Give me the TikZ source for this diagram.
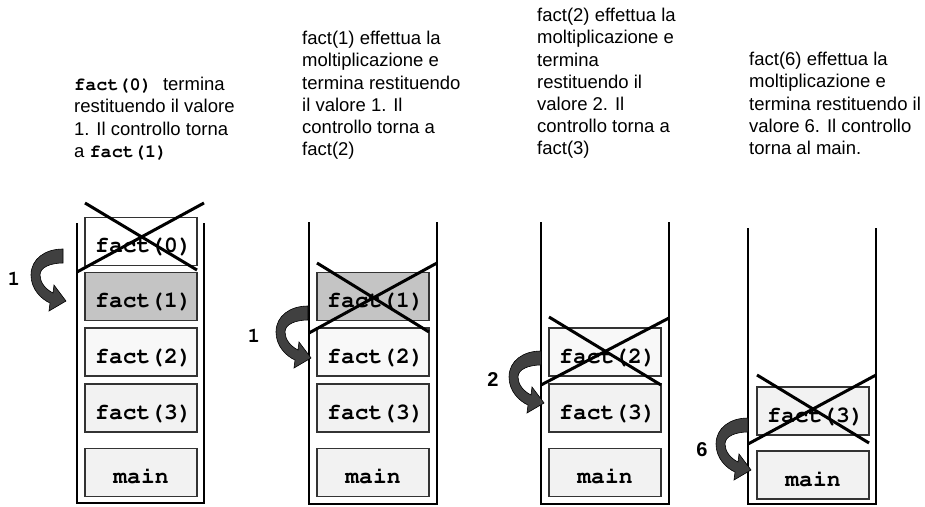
\documentclass[tikz,border=0pt]{standalone}
\usepackage[T1]{fontenc}
\usepackage{fontspec}
\setmainfont{Liberation Sans}
\newcommand{\courb}{\fontencoding{T1}\fontfamily{pcr}\fontseries{b}\fontshape{n}\selectfont}
\definecolor{arrowgray}{HTML}{404040}
\definecolor{boxgray}{HTML}{C4C4C4}
\definecolor{boxlight}{HTML}{F8F8F8}
\definecolor{boxpale}{HTML}{F2F2F2}
\tikzset{
  frame/.style={draw=black!80, line width=1.3pt, minimum width=112pt, minimum height=48pt,
    inner sep=0pt, text height=22pt, text depth=0pt,
    font=\fontsize{23}{23}\courb},
  wall/.style={line width=2.6pt},
  crossline/.style={line width=3pt},
  caption/.style={anchor=north west, inner sep=0pt, align=left,
    font=\fontsize{18.5}{22.2}\selectfont},
  numlabel/.style={inner sep=0pt, font=\fontsize{20}{20}\selectfont\bfseries},
  retarrow/.pic={
    \filldraw[fill=arrowgray, draw=black, line width=0.6pt]
      (0,0) .. controls (-18,0) and (-32,10) .. (-32,26)
      .. controls (-32,40) and (-22,50) .. (-13,54)
      -- (-14,62) -- (3,52) -- (-9,36) -- (-10,44)
      .. controls (-18,40) and (-23,33) .. (-23,26)
      .. controls (-23,18) and (-12,14) .. (0,14) -- cycle;
  }
}
\begin{document}
\begin{tikzpicture}[x=1pt,y=-1pt]
\useasboundingbox (0,0) rectangle (925,506);

% captions
\node[caption] (c1) at (74,77)
  {{\courb fact(0) }termina\\restituendo il valore\\1. Il controllo torna\\a {\courb fact(1)}};
\node[caption] (c2) at (302,31)
  {fact(1) effettua la\\moltiplicazione e\\termina restituendo\\il valore 1. Il\\controllo torna a\\fact(2)};
\node[caption] (c3) at (537,8)
  {fact(2) effettua la\\moltiplicazione e\\termina\\restituendo il\\valore 2. Il\\controllo torna a\\fact(3)};
\node[caption] (c4) at (749,52)
  {fact(6) effettua la\\moltiplicazione e\\termina restituendo il\\valore 6. Il controllo\\torna al main.};

% stack 1
\draw[wall] (77,223) -- (77,503) -- (204,503) -- (204,223);
\node[frame, fill=white] (a0) at (141,241.5) {\hspace*{5pt}fact(0)};
\node[frame, fill=boxgray] (a1) at (141,296.5) {\hspace*{5pt}fact(1)};
\node[frame, fill=boxlight] (a2) at (141,352) {\hspace*{5pt}fact(2)};
\node[frame, fill=boxpale] (a3) at (141,408) {\hspace*{5pt}fact(3)};
\node[frame, fill=boxpale] (am) at (141,472.5) {main};
\draw[crossline] (85,203) -- (197,270);
\draw[crossline] (204,203) -- (77,272);
\pic at (63,249) {retarrow};
\node[numlabel, font=\fontsize{21}{21}\courb] (n1) at (14,279) {1};

% stack 2
\draw[wall] (309,222) -- (309,504) -- (437,504) -- (437,222);
\node[frame, fill=boxgray] (b1) at (373,296.5) {\hspace*{5pt}fact(1)};
\node[frame, fill=boxlight] (b2) at (373,352) {\hspace*{5pt}fact(2)};
\node[frame, fill=boxpale] (b3) at (373,408) {\hspace*{5pt}fact(3)};
\node[frame, fill=boxpale] (bm) at (373,472.5) {main};
\draw[crossline] (317,263) -- (429,332);
\draw[crossline] (437,263) -- (309,333);
\pic at (308,306) {retarrow};
\node[numlabel, font=\fontsize{21}{21}\courb] (n2) at (254,336) {1};

% stack 3
\draw[wall] (541,222) -- (541,504) -- (669,504) -- (669,222);
\node[frame, fill=boxlight] (d2) at (605,352) {\hspace*{5pt}fact(2)};
\node[frame, fill=boxpale] (d3) at (605,408) {\hspace*{5pt}fact(3)};
\node[frame, fill=boxpale] (dm) at (605,472.5) {main};
\draw[crossline] (549,317) -- (661,385);
\draw[crossline] (669,318) -- (541,385);
\pic at (541,351) {retarrow};
\node[numlabel] (n3) at (493,380) {2};

% stack 4
\draw[wall] (748,228) -- (748,504) -- (876,504) -- (876,228);
\node[frame, fill=boxpale] (e3) at (813,411) {\hspace*{5pt}fact(3)};
\node[frame, fill=boxpale] (em) at (813,475) {main};
\draw[crossline] (757,375) -- (869,443);
\draw[crossline] (876,375) -- (748,444);
\pic at (748,418) {retarrow};
\node[numlabel] (n4) at (702,450) {6};
\end{tikzpicture}
\end{document}
